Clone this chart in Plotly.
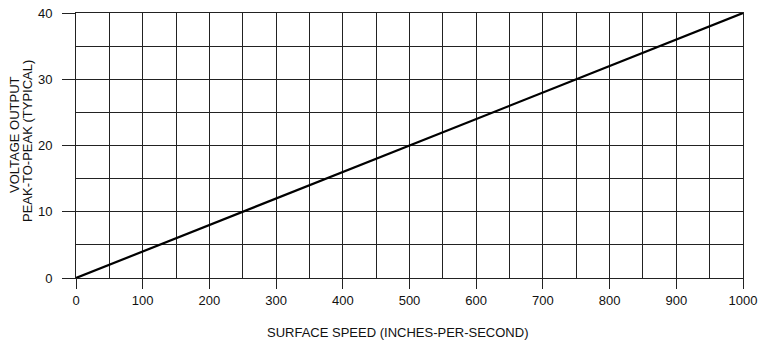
import plotly.graph_objects as go

speed = [0, 1000]
voltage = [0, 40]
x_ticks = [0, 100, 200, 300, 400, 500, 600, 700, 800, 900, 1000]
y_ticks = [0, 10, 20, 30, 40]
x_title = "SURFACE SPEED (INCHES-PER-SECOND)"
y_title_lines = ["VOLTAGE OUTPUT", "PEAK-TO-PEAK (TYPICAL)"]

W, H = 758, 342
L, R, T, B = 76, 15, 13, 64
pw, ph = W - L - R, H - T - B
PX0, PY0 = L, H - B  # px of plot origin


def px(x):
    return (x - PX0) / pw


def py(y):
    return (PY0 - y) / ph


font = dict(family="Liberation Sans, Arial, sans-serif", size=13, color="#111")

fig = go.Figure()
fig.add_trace(go.Scatter(x=speed, y=voltage, mode="lines",
                         line=dict(color="#000", width=2.2), showlegend=False,
                         hoverinfo="skip"))

grid_col = "#222"
fig.update_xaxes(range=[0, 1000], tickvals=x_ticks, ticktext=[str(v) for v in x_ticks],
                 ticks="outside", ticklen=10, tickcolor=grid_col, tickwidth=1,
                 showgrid=True, gridcolor=grid_col, gridwidth=1,
                 minor=dict(dtick=50, tick0=0, showgrid=True, gridcolor=grid_col, gridwidth=1),
                 zeroline=False, showline=True, linecolor=grid_col, linewidth=1, mirror=True,
                 tickfont=font, automargin=False, ticklabeloverflow="allow")
fig.update_yaxes(range=[0, 40], tickvals=y_ticks, ticktext=[str(v) for v in y_ticks],
                 ticks="outside", ticklen=13, tickcolor=grid_col, tickwidth=1,
                 ticklabelstandoff=7,
                 showgrid=True, gridcolor=grid_col, gridwidth=1,
                 minor=dict(dtick=5, tick0=0, showgrid=True, gridcolor=grid_col, gridwidth=1),
                 zeroline=False, showline=True, linecolor=grid_col, linewidth=1, mirror=True,
                 tickfont=font, automargin=False, ticklabeloverflow="allow")

fig.add_annotation(text=x_title, xref="paper", yref="paper",
                   x=px(397), y=py(332),
                   showarrow=False, font=font, xanchor="center", yanchor="middle")
for text, cx, cy in zip(y_title_lines, [14, 27], [135, 141]):
    fig.add_annotation(text=text, xref="paper", yref="paper",
                       x=px(cx), y=py(cy),
                       showarrow=False, font=font, textangle=-90,
                       xanchor="center", yanchor="middle")

fig.update_layout(width=W, height=H, margin=dict(l=L, r=R, t=T, b=B, autoexpand=False),
                  plot_bgcolor="white", paper_bgcolor="white", font=font)
fig.write_html("out.html", config={"displayModeBar": False, "staticPlot": True},
               post_script="document.body.style.margin='0';document.body.style.overflow='hidden';")
